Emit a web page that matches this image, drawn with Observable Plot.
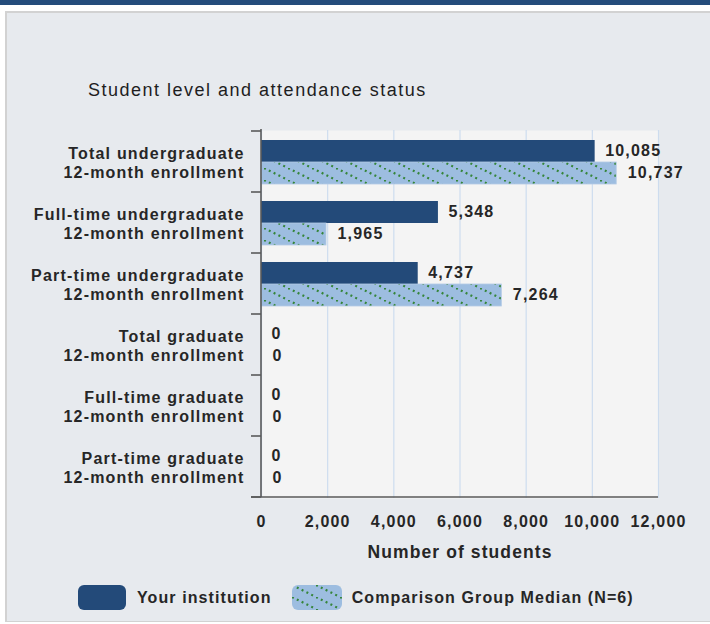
<!DOCTYPE html>
<html>
<head>
<meta charset="utf-8">
<script src="https://cdn.jsdelivr.net/npm/d3@7"></script>
<script src="https://cdn.jsdelivr.net/npm/@observablehq/plot@0.6"></script>
<style>
  body { margin: 0; width: 710px; height: 624px; position: relative; overflow: hidden; background: #fff;
         font-family: "Liberation Sans", Arial, sans-serif; color: #262626; }
  #topbar { position: absolute; left: 0; top: 0; width: 710px; height: 5px; background: #244c7b; }
  #panel { position: absolute; left: 5px; top: 11px; width: 710px; height: 608px; background: #e7eaee;
           border-top: 2px solid #d2d2d2; border-left: 2px solid #d2d2d2; border-bottom: 1px solid #d2d2d2; }
  #chart { position: absolute; left: 0; top: 0; }
  #title { position: absolute; left: 88px; top: 80px; font-size: 18px; letter-spacing: 1.5px; white-space: nowrap; color: #1e1e1e; }
  #xlabel { position: absolute; left: 260px; width: 400px; top: 542px; text-align: center; font-size: 17.5px;
            font-weight: bold; letter-spacing: 1.1px; white-space: nowrap; }
  #legend { position: absolute; left: 78px; top: 585px; height: 25px; display: flex; align-items: center;
            font-size: 16px; font-weight: bold; letter-spacing: 1.1px; white-space: nowrap; }
  #legend svg { display: block; }
</style>
</head>
<body>
<div id="topbar"></div>
<div id="panel"></div>
<div id="chart"></div>
<div id="title">Student level and attendance status</div>
<div id="xlabel">Number of students</div>
<div id="legend"></div>
<script>
// ---- data ----
const categories = [
  "Total undergraduate\n12-month enrollment",
  "Full-time undergraduate\n12-month enrollment",
  "Part-time undergraduate\n12-month enrollment",
  "Total graduate\n12-month enrollment",
  "Full-time graduate\n12-month enrollment",
  "Part-time graduate\n12-month enrollment"
];
const yourInstitution = [10085, 5348, 4737, 0, 0, 0];
const comparisonMedian = [10737, 1965, 7264, 0, 0, 0];
const xTicks = [0, 2000, 4000, 6000, 8000, 10000, 12000];
const seriesNames = ["Your institution", "Comparison Group Median (N=6)"];

const rows = categories.map((c, i) => ({category: c, yours: yourInstitution[i], median: comparisonMedian[i]}));
const fmt = d3.format(",");

const darkBlue = "#234a79";
const lightBlue = "#9dbde0";
const dotGreen = "#35853a";

function addPattern(svg, id) {
  const defs = d3.select(svg).insert("defs", ":first-child");
  const p = defs.append("pattern").attr("id", id).attr("patternUnits", "userSpaceOnUse")
    .attr("width", 24).attr("height", 12);
  p.append("rect").attr("width", 24).attr("height", 12).attr("fill", lightBlue);
  p.append("line").attr("x1", -24).attr("y1", -12).attr("x2", 48).attr("y2", 24)
    .attr("stroke", dotGreen).attr("stroke-width", 2.2).attr("stroke-dasharray", "2 3.37");
}

// band-edge ticks and axis lines, drawn through the plot's scales
function axisLines(index, scales) {
  const y = scales.y, x = scales.x;
  const step = y(categories[1]) - y(categories[0]);
  const edges = categories.map(c => y(c)).concat([y(categories[categories.length - 1]) + step]);
  const x0 = x(0), x1 = x(xTicks[xTicks.length - 1]);
  const g = d3.create("svg:g").attr("stroke", "#5a5a5a").attr("stroke-width", 1.6);
  edges.forEach(e => g.append("line").attr("x1", x0 - 10).attr("x2", x0).attr("y1", e).attr("y2", e));
  g.append("line").attr("x1", x0).attr("x2", x0).attr("y1", edges[0] - 2).attr("y2", edges[edges.length - 1]);
  g.append("line").attr("x1", x0 - 10).attr("x2", x1).attr("y1", edges[edges.length - 1]).attr("y2", edges[edges.length - 1]);
  return g.node();
}

const chart = Plot.plot({
  width: 710,
  height: 624,
  marginLeft: 261,
  marginRight: 52,
  marginTop: 130,
  marginBottom: 126,
  style: {
    background: "transparent",
    fontFamily: "'Liberation Sans', Arial, sans-serif",
    fontSize: "16px",
    fontWeight: "bold",
    letterSpacing: "1.2px",
    color: "#262626"
  },
  x: {domain: [0, 12000]},
  y: {domain: categories, padding: 0},
  marks: [
    Plot.frame({fill: "#f4f4f4", stroke: null}),
    Plot.gridX(xTicks, {stroke: "#cddcee", strokeOpacity: 1, strokeWidth: 1.2}),
    Plot.barX(rows, {y: "category", x: "yours", fill: darkBlue, insetTop: 9, insetBottom: 30}),
    Plot.barX(rows, {y: "category", x: "median", fill: "url(#hatch)", stroke: "#b3cbe6", strokeWidth: 0.8, insetTop: 31, insetBottom: 8}),
    Plot.text(rows, {y: "category", x: "yours", text: d => fmt(d.yours), textAnchor: "start", dx: 10, dy: -11}),
    Plot.text(rows, {y: "category", x: "median", text: d => fmt(d.median), textAnchor: "start", dx: 11, dy: 11}),
    Plot.axisX({ticks: xTicks, tickFormat: fmt, tickSize: 0, tickPadding: 17, label: null}),
    Plot.axisY({tickSize: 0, tickPadding: 17, label: null, lineHeight: 1.2}),
    axisLines
  ]
});
addPattern(chart, "hatch");
document.getElementById("chart").append(chart);

// legend
const legend = d3.select("#legend");
const sw1 = legend.append("svg").attr("width", 48).attr("height", 25);
sw1.append("rect").attr("width", 48).attr("height", 25).attr("rx", 6).attr("fill", darkBlue);
legend.append("span").style("margin-left", "11px").text(seriesNames[0]);
const sw2 = legend.append("svg").attr("width", 50).attr("height", 25).style("margin-left", "20px");
addPattern(sw2.node(), "hatchLegend");
sw2.append("rect").attr("width", 50).attr("height", 25).attr("rx", 6).attr("fill", "url(#hatchLegend)");
legend.append("span").style("margin-left", "10px").text(seriesNames[1]);
</script>
</body>
</html>
